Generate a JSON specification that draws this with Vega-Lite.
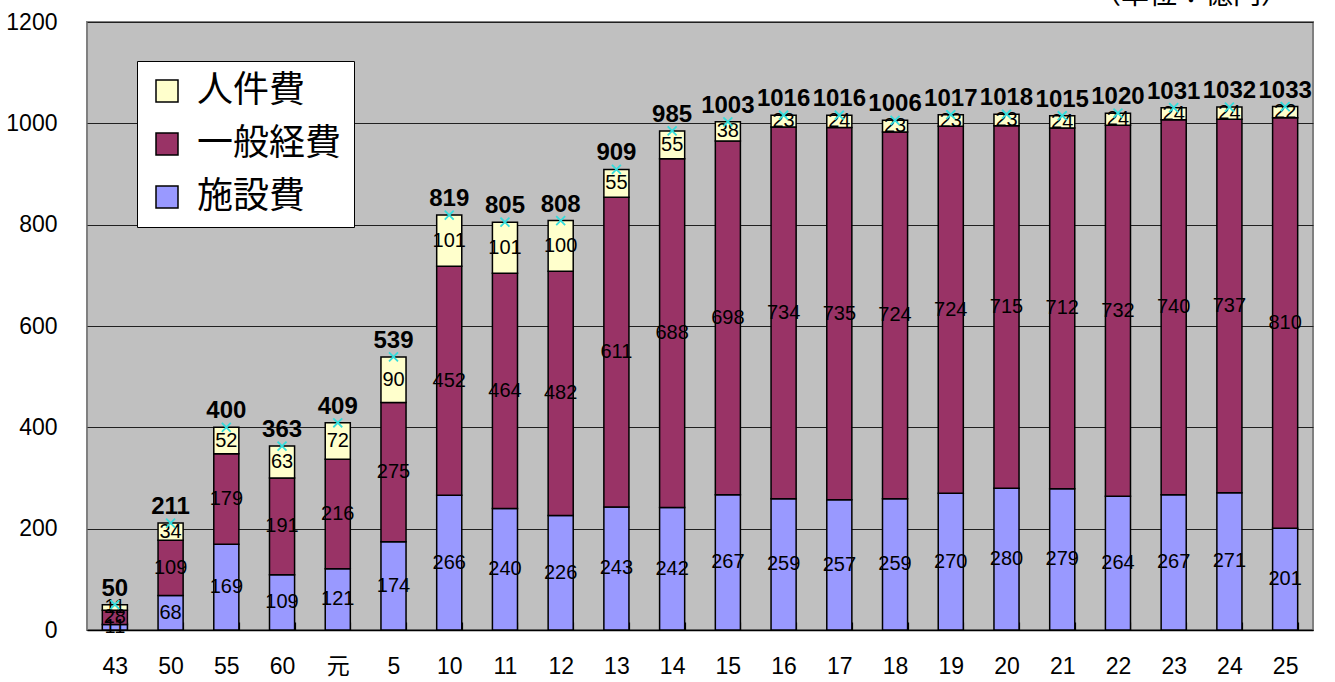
{
  "$schema": "https://vega.github.io/schema/vega-lite/v6.json",
  "autosize": {"type": "none"},
  "padding": {"top": 22, "left": 87, "right": 22, "bottom": 52},
  "width": 1226,
  "height": 608,
  "background": "white",
  "title": {
    "text": "（単位：億円）",
    "anchor": "end",
    "orient": "top",
    "font": "Noto Sans CJK JP",
    "fontSize": 28,
    "fontWeight": "normal",
    "color": "black",
    "dx": -24,
    "offset": 1
  },
  "config": {
    "view": {"fill": "#C0C0C0", "stroke": "#808080", "strokeWidth": 2},
    "font": "Liberation Sans"
  },
  "datasets": {
    "parts": [
      {"year": "43", "type": "施設費", "value": 11}, {"year": "43", "type": "一般経費", "value": 28}, {"year": "43", "type": "人件費", "value": 11},
      {"year": "50", "type": "施設費", "value": 68}, {"year": "50", "type": "一般経費", "value": 109}, {"year": "50", "type": "人件費", "value": 34},
      {"year": "55", "type": "施設費", "value": 169}, {"year": "55", "type": "一般経費", "value": 179}, {"year": "55", "type": "人件費", "value": 52},
      {"year": "60", "type": "施設費", "value": 109}, {"year": "60", "type": "一般経費", "value": 191}, {"year": "60", "type": "人件費", "value": 63},
      {"year": "元", "type": "施設費", "value": 121}, {"year": "元", "type": "一般経費", "value": 216}, {"year": "元", "type": "人件費", "value": 72},
      {"year": "5", "type": "施設費", "value": 174}, {"year": "5", "type": "一般経費", "value": 275}, {"year": "5", "type": "人件費", "value": 90},
      {"year": "10", "type": "施設費", "value": 266}, {"year": "10", "type": "一般経費", "value": 452}, {"year": "10", "type": "人件費", "value": 101},
      {"year": "11", "type": "施設費", "value": 240}, {"year": "11", "type": "一般経費", "value": 464}, {"year": "11", "type": "人件費", "value": 101},
      {"year": "12", "type": "施設費", "value": 226}, {"year": "12", "type": "一般経費", "value": 482}, {"year": "12", "type": "人件費", "value": 100},
      {"year": "13", "type": "施設費", "value": 243}, {"year": "13", "type": "一般経費", "value": 611}, {"year": "13", "type": "人件費", "value": 55},
      {"year": "14", "type": "施設費", "value": 242}, {"year": "14", "type": "一般経費", "value": 688}, {"year": "14", "type": "人件費", "value": 55},
      {"year": "15", "type": "施設費", "value": 267}, {"year": "15", "type": "一般経費", "value": 698}, {"year": "15", "type": "人件費", "value": 38},
      {"year": "16", "type": "施設費", "value": 259}, {"year": "16", "type": "一般経費", "value": 734}, {"year": "16", "type": "人件費", "value": 23},
      {"year": "17", "type": "施設費", "value": 257}, {"year": "17", "type": "一般経費", "value": 735}, {"year": "17", "type": "人件費", "value": 24},
      {"year": "18", "type": "施設費", "value": 259}, {"year": "18", "type": "一般経費", "value": 724}, {"year": "18", "type": "人件費", "value": 23},
      {"year": "19", "type": "施設費", "value": 270}, {"year": "19", "type": "一般経費", "value": 724}, {"year": "19", "type": "人件費", "value": 23},
      {"year": "20", "type": "施設費", "value": 280}, {"year": "20", "type": "一般経費", "value": 715}, {"year": "20", "type": "人件費", "value": 23},
      {"year": "21", "type": "施設費", "value": 279}, {"year": "21", "type": "一般経費", "value": 712}, {"year": "21", "type": "人件費", "value": 24},
      {"year": "22", "type": "施設費", "value": 264}, {"year": "22", "type": "一般経費", "value": 732}, {"year": "22", "type": "人件費", "value": 24},
      {"year": "23", "type": "施設費", "value": 267}, {"year": "23", "type": "一般経費", "value": 740}, {"year": "23", "type": "人件費", "value": 24},
      {"year": "24", "type": "施設費", "value": 271}, {"year": "24", "type": "一般経費", "value": 737}, {"year": "24", "type": "人件費", "value": 24},
      {"year": "25", "type": "施設費", "value": 201}, {"year": "25", "type": "一般経費", "value": 810}, {"year": "25", "type": "人件費", "value": 22}
    ],
    "totals": [
      {"year": "43", "total": 50}, {"year": "50", "total": 211}, {"year": "55", "total": 400}, {"year": "60", "total": 363},
      {"year": "元", "total": 409}, {"year": "5", "total": 539}, {"year": "10", "total": 819}, {"year": "11", "total": 805},
      {"year": "12", "total": 808}, {"year": "13", "total": 909}, {"year": "14", "total": 985}, {"year": "15", "total": 1003},
      {"year": "16", "total": 1016}, {"year": "17", "total": 1016}, {"year": "18", "total": 1006}, {"year": "19", "total": 1017},
      {"year": "20", "total": 1018}, {"year": "21", "total": 1015}, {"year": "22", "total": 1020}, {"year": "23", "total": 1031},
      {"year": "24", "total": 1032}, {"year": "25", "total": 1033}
    ]
  },
  "encoding": {
    "x": {
      "field": "year", "type": "nominal",
      "scale": {"domain": ["43","50","55","60","元","5","10","11","12","13","14","15","16","17","18","19","20","21","22","23","24","25"], "paddingInner": 0.55, "paddingOuter": 0.275},
      "axis": {
        "title": null, "labelAngle": 0, "labelFontSize": 23, "labelColor": "black",
        "labelFont": "Liberation Sans, Noto Sans CJK JP",
        "domainColor": "black", "domainWidth": 1.5,
        "tickBand": "extent", "tickSize": -8, "tickColor": "black", "tickWidth": 1.2,
        "labelPadding": 33, "grid": false
      }
    }
  },
  "layer": [
    {
      "data": {"name": "parts"},
      "transform": [
        {"calculate": "indexof(['施設費','一般経費','人件費'], datum.type)", "as": "ord"}
      ],
      "mark": {"type": "bar", "stroke": "black", "strokeWidth": 1.5},
      "encoding": {
        "y": {
          "field": "value", "type": "quantitative", "stack": "zero",
          "scale": {"domain": [0, 1200]},
          "axis": {
            "title": null, "values": [0,200,400,600,800,1000,1200], "format": "d",
            "labelFontSize": 23, "labelColor": "black", "labelFont": "Liberation Sans",
            "ticks": false, "domain": false, "labelPadding": 30,
            "grid": true, "gridColor": "#202020", "gridWidth": 1
          }
        },
        "color": {
          "field": "type", "type": "nominal",
          "scale": {"domain": ["人件費","一般経費","施設費"], "range": ["#FFFFCC","#993366","#9999FF"]},
          "legend": {
            "title": null, "orient": "none", "legendX": 50, "legendY": 39,
            "fillColor": "white", "strokeColor": "black",
            "padding": 12, "symbolType": "square", "symbolSize": 484,
            "symbolStrokeColor": "black", "symbolStrokeWidth": 1.5, "symbolOpacity": 1,
            "labelFontSize": 36, "labelFont": "Noto Sans CJK JP", "labelColor": "black",
            "labelOffset": 12, "rowPadding": 17, "labelLimit": 300
          }
        },
        "order": {"field": "ord", "type": "quantitative"}
      }
    },
    {
      "data": {"name": "parts"},
      "transform": [
        {"calculate": "indexof(['施設費','一般経費','人件費'], datum.type)", "as": "ord"},
        {"stack": "value", "groupby": ["year"], "sort": [{"field": "ord"}], "as": ["v0", "v1"]},
        {"calculate": "(datum.v0 + datum.v1) / 2", "as": "mid"}
      ],
      "mark": {"type": "text", "fontSize": 20, "font": "Liberation Sans", "color": "black", "baseline": "middle"},
      "encoding": {
        "y": {"field": "mid", "type": "quantitative"},
        "text": {"field": "value", "type": "quantitative"}
      }
    },
    {
      "data": {"name": "totals"},
      "mark": {"type": "point", "shape": "M-1,-1L1,1M-1,1L1,-1", "size": 80, "stroke": "#33DDDD", "strokeWidth": 1.8, "filled": false, "opacity": 1},
      "encoding": {
        "y": {"field": "total", "type": "quantitative"}
      }
    },
    {
      "data": {"name": "totals"},
      "mark": {"type": "text", "fontSize": 24, "font": "Liberation Sans", "fontWeight": "bold", "color": "black", "baseline": "middle", "dy": -16},
      "encoding": {
        "y": {"field": "total", "type": "quantitative"},
        "text": {"field": "total", "type": "quantitative"}
      }
    }
  ]
}
